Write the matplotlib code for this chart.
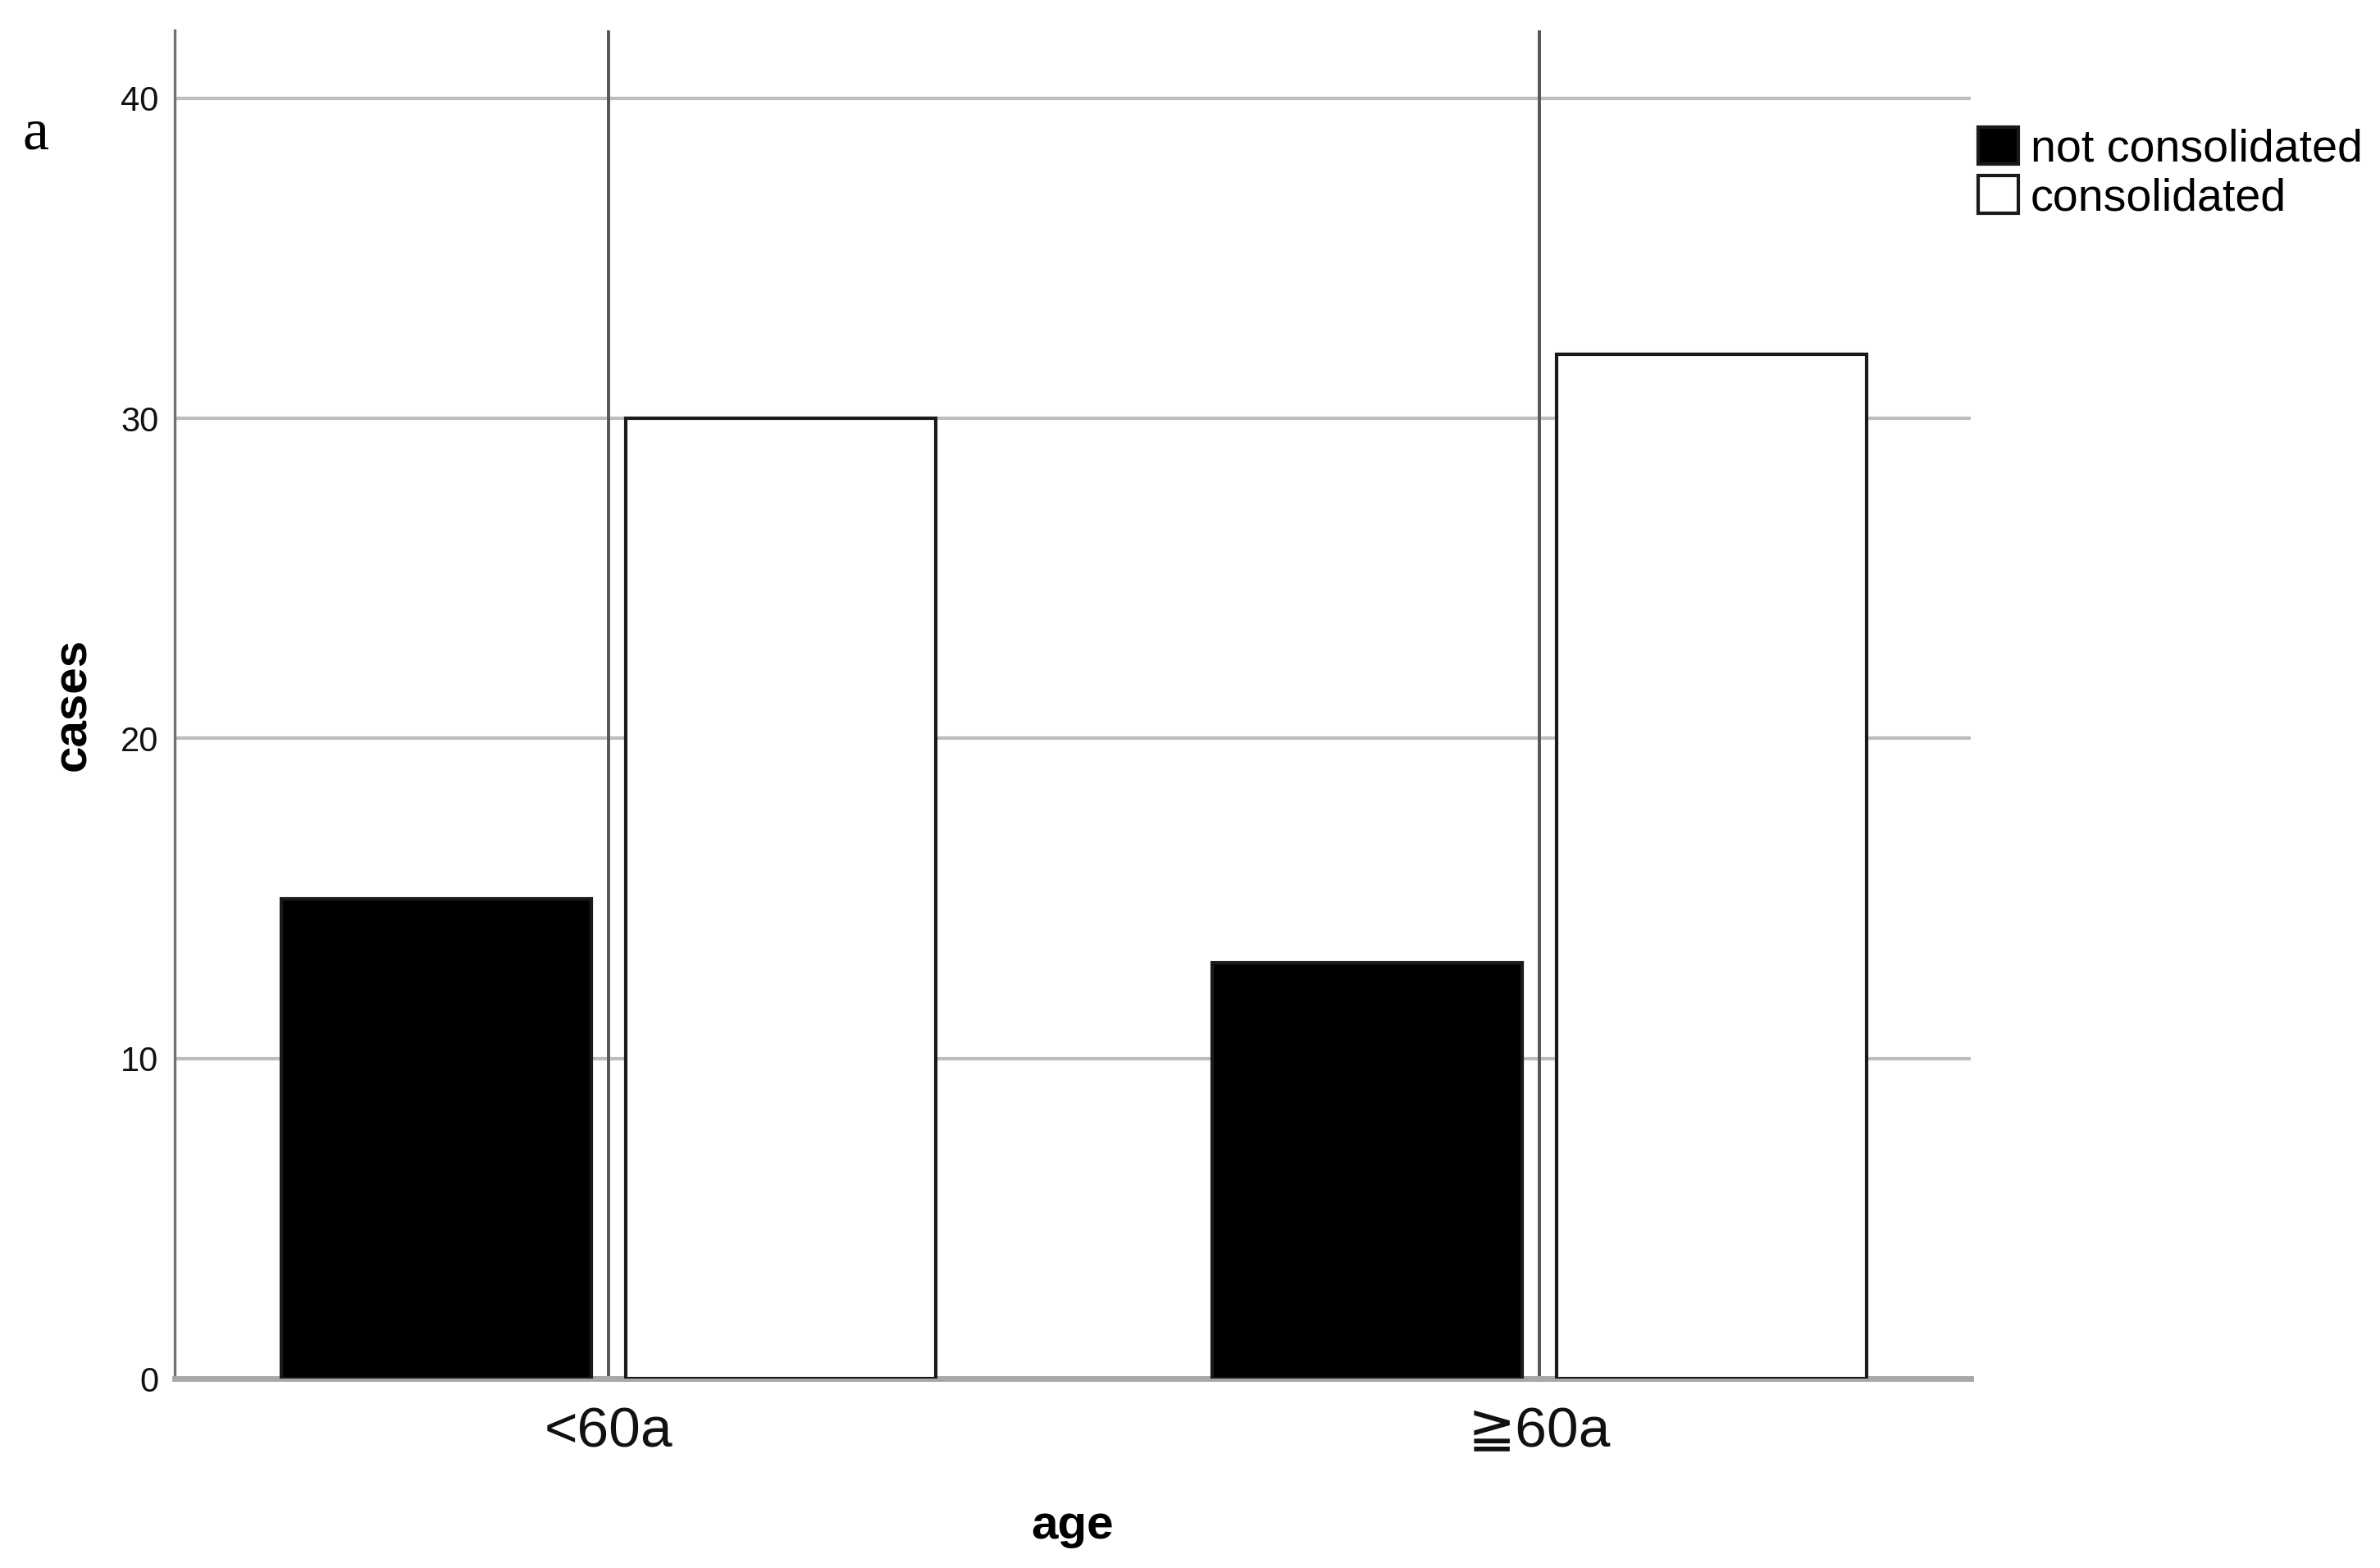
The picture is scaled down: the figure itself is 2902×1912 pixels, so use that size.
import matplotlib.pyplot as plt
import numpy as np

plt.rcParams['font.family'] = ['Liberation Sans', 'DejaVu Sans']

# data
categories = ['<60a', '≧60a']
not_consolidated = [15, 13]
consolidated = [30, 32]
series_names = ['not consolidated', 'consolidated']
y_ticks = [0, 10, 20, 30, 40]

fig = plt.figure(figsize=(14.51, 9.56), dpi=200)
ax = fig.add_axes([0.0734, 0.1208, 0.8280 - 0.0734, 0.9806 - 0.1208])

x = np.arange(len(categories))
w = 0.333
off = 0.185

ax.bar(x - off, not_consolidated, width=w, color='black', edgecolor='#1a1a1a',
       linewidth=1.5, zorder=3, label=series_names[0])
ax.bar(x + off, consolidated, width=w, color='white', edgecolor='#1a1a1a',
       linewidth=1.5, zorder=3, label=series_names[1])

# category lines (SPSS style)
for xi in x:
    ax.axvline(xi, color='#555555', lw=1.4, zorder=2)

ax.set_xlim(-0.466, 1.463)
ax.set_ylim(0, 42.12)
ax.set_yticks(y_ticks)
ax.yaxis.grid(True, color='#bdbdbd', lw=1.5, zorder=0)
ax.set_axisbelow(True)

ax.set_xticks(x)
ax.set_xticklabels(categories, fontsize=25, color='#111111',
                   family=['Liberation Sans', 'DejaVu Sans', 'Noto Sans CJK SC'])
ax.tick_params(axis='x', length=0, pad=12)
ax.tick_params(axis='y', length=0, pad=7, labelsize=15, labelcolor='#111111')

for s in ['top', 'right']:
    ax.spines[s].set_visible(False)
ax.spines['left'].set_color('#707070')
ax.spines['left'].set_linewidth(1.2)
ax.spines['bottom'].set_color('#a8a8a8')
ax.spines['bottom'].set_linewidth(2.5)
ax.spines['bottom'].set_zorder(2.5)

ax.set_xlabel('age', fontsize=21, fontweight='bold', labelpad=20)
ax.set_ylabel('cases', fontsize=21, fontweight='bold', labelpad=11)

fig.legend(loc='upper left', bbox_to_anchor=(0.8311, 0.9190), frameon=False,
           fontsize=20, handlelength=0.88, handleheight=0.88, handletextpad=0.27,
           labelspacing=0.1, borderpad=0, borderaxespad=0)

fig.text(0.0096, 0.905, 'a', fontsize=26, family='Liberation Serif', color='black')

fig.savefig('out.png', dpi=200)
